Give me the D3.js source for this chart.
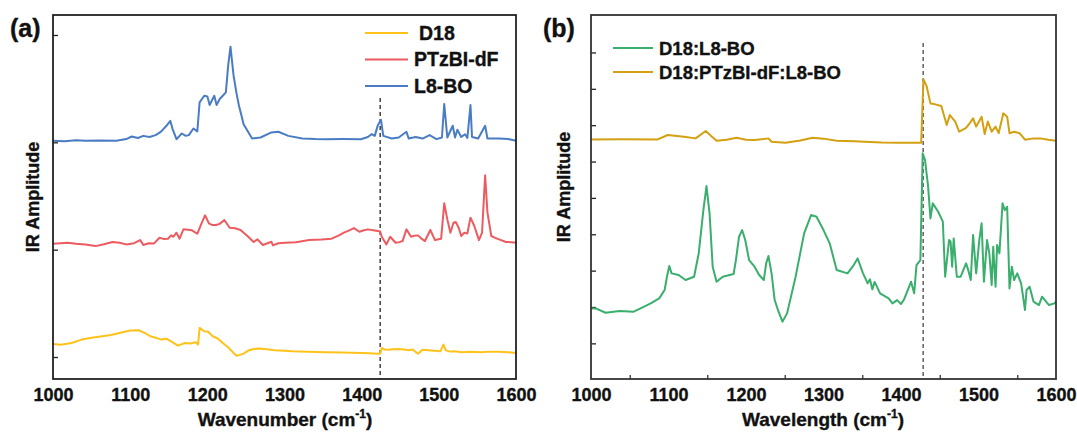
<!DOCTYPE html>
<html>
<head>
<meta charset="utf-8">
<script src="https://cdn.jsdelivr.net/npm/d3@7"></script>
<style>
  body { margin: 0; background: #fff; }
  svg text { font-family: "Liberation Sans", Arial, sans-serif; font-weight: bold; fill: #111; stroke: #111; stroke-width: 0.35px; }
</style>
</head>
<body>
<svg id="chart" width="1077" height="432"></svg>
<script>
// ---- data (wavenumber cm-1, offset amplitude) ----
var xTicks = [1000, 1100, 1200, 1300, 1400, 1500, 1600];
var namesA = ["D18", "PTzBI-dF", "L8-BO"];
var namesB = ["D18:L8-BO", "D18:PTzBI-dF:L8-BO"];
var markA = 1424;
var markB = 1428.6;

var d18 = [[1000,0.12],[1010,0.115],[1024,0.13],[1037,0.162],[1050,0.18],[1064,0.193],[1075,0.205],[1086,0.224],[1100,0.246],[1111,0.249],
  [1120,0.22],[1126,0.193],[1133,0.18],[1140,0.162],[1147,0.17],[1153,0.146],[1162,0.106],[1167,0.12],[1171,0.13],[1178,0.125],[1185,0.137],[1188,0.115],
  [1190,0.271],[1196,0.24],[1201,0.235],[1207,0.193],[1214,0.17],[1220,0.13],[1227,0.09],[1234,0.037],[1238,0.012],[1242,0.02],[1247,0.031],[1253,0.06],[1260,0.075],
  [1267,0.08],[1274,0.075],[1287,0.062],[1300,0.058],[1310,0.053],[1330,0.05],[1354,0.044],[1375,0.042],[1399,0.037],[1410,0.036],[1421,0.031],[1424,0.03],
  [1426,0.084],[1430,0.07],[1435,0.068],[1440,0.072],[1448,0.075],[1455,0.07],[1461,0.062],[1466,0.07],[1473,0.031],[1476,0.05],[1479,0.068],[1490,0.06],[1502,0.053],
  [1506,0.115],[1509,0.062],[1515,0.05],[1520,0.053],[1530,0.045],[1540,0.05],[1555,0.044],[1565,0.05],[1578,0.05],[1590,0.045],[1600,0.037]];

var ptzbi = [[1000,1.055],[1010,1.06],[1019,1.064],[1030,1.055],[1042,1.049],[1055,1.033],[1066,1.05],[1077,1.071],[1086,1.065],[1095,1.049],[1105,1.06],
  [1113,1.089],[1117,1.043],[1124,1.06],[1131,1.058],[1138,1.111],[1143,1.1],[1149,1.102],[1153,1.133],[1156,1.12],[1160,1.158],[1164,1.102],[1169,1.189],
  [1175,1.185],[1180,1.18],[1187,1.148],[1191,1.22],[1197,1.32],[1202,1.245],[1206,1.23],[1211,1.229],[1216,1.24],[1222,1.276],[1229,1.204],[1236,1.2],
  [1243,1.183],[1252,1.127],[1260,1.071],[1265,1.096],[1272,1.043],[1278,1.06],[1283,1.074],[1285,1.04],[1292,1.06],[1301,1.064],[1315,1.07],[1332,1.089],
  [1348,1.095],[1361,1.102],[1370,1.13],[1377,1.158],[1384,1.18],[1390,1.201],[1397,1.167],[1403,1.18],[1408,1.189],[1415,1.18],[1421,1.173],[1424,1.17],
  [1426,1.12],[1432,1.049],[1437,1.12],[1444,1.064],[1449,1.07],[1453,1.08],[1458,1.189],[1464,1.12],[1468,1.13],[1473,1.133],[1478,1.1],[1482,1.08],
  [1489,1.183],[1495,1.089],[1503,1.102],[1507,1.432],[1511,1.282],[1515,1.158],[1519,1.251],[1522,1.257],[1526,1.2],[1529,1.127],[1533,1.158],[1537,1.15],
  [1541,1.298],[1546,1.22],[1552,1.089],[1556,1.158],[1560,1.693],[1563,1.345],[1568,1.127],[1573,1.11],[1578,1.096],[1587,1.071],[1594,1.07],[1600,1.064]];

var l8bo = [[1000,2.014],[1015,2.01],[1030,2.02],[1042,2.014],[1060,2.018],[1082,2.014],[1095,2.03],[1102,2.054],[1110,2.04],[1117,2.06],[1125,2.05],
  [1133,2.067],[1140,2.1],[1147,2.154],[1152,2.2],[1155,2.123],[1160,2.029],[1164,2.06],[1167,2.082],[1172,2.06],[1176,2.067],[1182,2.129],[1187,2.101],
  [1190,2.372],[1196,2.434],[1200,2.428],[1203,2.347],[1209,2.434],[1212,2.347],[1216,2.403],[1220,2.434],[1224,2.465],[1227,2.714],[1230,2.891],
  [1234,2.621],[1238,2.449],[1241,2.34],[1243,2.284],[1247,2.169],[1252,2.107],[1258,2.035],[1269,2.045],[1283,2.092],[1292,2.098],[1305,2.06],
  [1323,2.035],[1340,2.03],[1354,2.029],[1375,2.03],[1399,2.029],[1408,2.05],[1413,2.076],[1417,2.06],[1421,2.16],[1425,2.21],[1428,2.06],[1439,2.035],
  [1448,2.045],[1458,2.098],[1461,2.035],[1470,2.05],[1479,2.035],[1488,2.067],[1497,2.03],[1504,2.045],[1507,2.356],[1511,2.045],[1518,2.154],[1521,2.045],
  [1524,2.117],[1529,2.05],[1534,2.075],[1537,2.04],[1541,2.347],[1543,2.05],[1551,2.035],[1560,2.154],[1563,2.035],[1578,2.035],[1590,2.03],[1600,2.014]];

var mixGreen = [[1000,0.962],[1006,0.962],[1019,0.843],[1037,0.889],[1055,0.871],[1064,0.962],[1077,1.1],[1088,1.237],[1095,1.467],[1098,1.833],
  [1101,2.127],[1104,1.925],[1113,1.879],[1122,1.742],[1133,1.833],[1139,2.475],[1145,3.666],[1149,4.326],[1153,3.575],[1157,2.108],[1162,1.696],
  [1170,1.833],[1184,1.907],[1187,2.291],[1191,2.933],[1195,3.116],[1199,2.841],[1204,2.291],[1211,2.108],[1217,1.879],[1223,1.742],[1226,2.2],
  [1229,2.401],[1233,1.925],[1237,1.192],[1242,0.871],[1247,0.596],[1253,0.825],[1264,1.833],[1275,3.025],[1284,3.529],[1291,3.483],[1300,3.116],
  [1308,2.75],[1317,2.017],[1331,1.925],[1339,2.154],[1344,2.337],[1351,1.925],[1357,1.65],[1360,1.76],[1363,1.485],[1366,1.69],[1373,1.375],
  [1384,1.237],[1389,1.1],[1395,1.19],[1400,1.082],[1404,1.21],[1413,1.696],[1417,1.375],[1420,2.154],[1425,2.291],[1428,5.225],[1431,5.041],
  [1435,4.308],[1438,3.437],[1441,3.85],[1448,3.62],[1454,3.346],[1457,1.833],[1462,2.841],[1464,2.8],[1466,2.108],[1468,2.887],[1472,1.833],
  [1477,1.833],[1484,2.2],[1487,2.0],[1490,1.742],[1493,2.979],[1497,1.925],[1501,2.841],[1504,3.3],[1507,1.696],[1511,2.841],[1514,2.475],
  [1517,1.604],[1519,2.658],[1522,1.558],[1524,2.704],[1527,2.475],[1531,3.85],[1534,3.666],[1537,3.758],[1540,1.512],[1543,2.108],[1546,1.742],
  [1550,1.925],[1555,1.65],[1560,0.917],[1562,1.467],[1566,1.558],[1571,1.146],[1578,1.054],[1582,1.283],[1591,1.054],[1598,1.1],[1600,1.146]];

var mixGold = [[1000,5.609],[1040,5.61],[1086,5.609],[1099,5.729],[1108,5.71],[1120,5.68],[1135,5.637],[1148,5.839],[1155,5.7],[1162,5.573],
  [1175,5.6],[1188,5.655],[1200,5.6],[1211,5.59],[1229,5.637],[1233,5.545],[1251,5.518],[1270,5.58],[1286,5.655],[1300,5.63],[1317,5.573],
  [1340,5.56],[1353,5.545],[1375,5.527],[1400,5.52],[1426,5.518],[1429,7.259],[1433,7.076],[1438,6.599],[1443,6.58],[1452,6.526],[1459,6.004],
  [1463,6.279],[1470,6.1],[1475,5.82],[1483,5.91],[1487,6.004],[1493,6.187],[1497,5.96],[1504,6.233],[1508,5.756],[1512,6.1],[1517,5.82],
  [1522,5.96],[1526,5.78],[1532,6.325],[1537,6.233],[1540,5.78],[1546,5.82],[1553,5.78],[1560,5.6],[1571,5.637],[1580,5.637],[1590,5.6],[1600,5.573]];

var colorsA = ["#FFC21A", "#EC5B60", "#4A7CC4"];
var colorsB = ["#3AAE6C", "#D4A010"];

var svg = d3.select("#chart");

// ---- panel builder ----
function panel(opt) {
    var x = d3.scaleLinear().domain([1000, 1600]).range([opt.left, opt.right]);
    var y = d3.scaleLinear().domain(opt.yDomain).range([379, 15]);
    var g = svg.append("g");

    // y ticks (inward, no labels)
    var ya = g.append("g")
        .attr("transform", "translate(" + opt.left + ",0)")
        .call(d3.axisLeft(y).tickValues(opt.yTicks).tickSize(-5).tickFormat(""));
    ya.select(".domain").remove();
    ya.selectAll("line").attr("stroke", "#222").attr("stroke-width", 1.3);

    // x axis labels
    var xa = g.append("g")
        .attr("transform", "translate(0,379)")
        .call(d3.axisBottom(x).tickValues(xTicks).tickSize(0).tickPadding(9).tickFormat(d3.format("d")));
    xa.select(".domain").remove();
    xa.selectAll("text").style("font-size", "18px").attr("fill", "#111");

    if (opt.minor) {
        var xm = g.append("g")
            .attr("transform", "translate(0,379)")
            .call(d3.axisBottom(x).tickValues(opt.minor).tickSize(-4).tickFormat(""));
        xm.select(".domain").remove();
        xm.selectAll("line").attr("stroke", "#333").attr("stroke-width", 1.3);
    }

    // dashed marker
    g.append("line")
        .attr("x1", x(opt.mark)).attr("x2", x(opt.mark))
        .attr("y1", opt.markTop).attr("y2", 379)
        .attr("stroke", opt.markColor).attr("stroke-width", 1.4)
        .attr("stroke-dasharray", "4,3");

    // traces
    var line = d3.line().x(d => x(d[0])).y(d => y(d[1]));
    opt.series.forEach(function (s, i) {
        g.append("path")
            .datum(s)
            .attr("d", line)
            .attr("fill", "none")
            .attr("stroke", opt.colors[i])
            .attr("stroke-width", 2)
            .attr("stroke-linejoin", "round");
    });

    // frame
    g.append("rect")
        .attr("x", opt.left).attr("y", 15)
        .attr("width", opt.right - opt.left).attr("height", 364)
        .attr("fill", "none").attr("stroke", opt.frameColor).attr("stroke-width", 1.8);

    // legend
    opt.names.forEach(function (n, i) {
        var ly = opt.legY + i * opt.legStep;
        g.append("line")
            .attr("x1", opt.legX).attr("x2", opt.legX + opt.legLen)
            .attr("y1", ly).attr("y2", ly)
            .attr("stroke", opt.colors[i]).attr("stroke-width", 2);
        g.append("text")
            .attr("x", opt.legX + opt.legLen + 6 + (opt.legIndent ? opt.legIndent[i] : 0))
            .attr("y", ly + 6.5)
            .style("font-size", opt.legFont + "px")
            .text(n);
    });

    // axis titles
    g.append("text")
        .attr("transform", "translate(" + opt.yTitleX + "," + opt.yTitleY + ") rotate(-90)")
        .attr("text-anchor", "middle")
        .style("font-size", "18px")
        .text("IR Amplitude");

    var xt = g.append("text")
        .attr("x", opt.xTitleX).attr("y", 426)
        .attr("text-anchor", "middle")
        .style("font-size", "19px");
    xt.append("tspan").text(opt.xTitle + " (cm");
    xt.append("tspan").attr("dy", -8).style("font-size", "12px").text("-1");
    xt.append("tspan").attr("dy", 8).text(")");

    g.append("text")
        .attr("x", opt.tagX).attr("y", 37)
        .style("font-size", "25px")
        .text(opt.tag);
}

panel({
    left: 53, right: 516, yDomain: [-0.205, 3.186], yTicks: [0, 1, 2, 3],
    series: [d18, ptzbi, l8bo], colors: colorsA, names: namesA,
    mark: markA, markTop: 98, markColor: "#333",
    legX: 365, legY: 33, legStep: 26.5, legLen: 43, legFont: 19.5, legIndent: [5, 0, 0],
    frameColor: "#222", yTitleX: 39, yTitleY: 197, xTitleX: 285, xTitle: "Wavenumber",
    tag: "(a)", tagX: 10
});

panel({
    left: 591, right: 1056, yDomain: [-0.98, 9.03], yTicks: [0, 1, 2, 3, 4, 5, 6, 7, 8],
    minor: [1050, 1150, 1250, 1350, 1450, 1550],
    series: [mixGreen, mixGold], colors: colorsB, names: namesB,
    mark: markB, markTop: 43, markColor: "#555",
    legX: 613, legY: 48, legStep: 24, legLen: 40, legFont: 18.5,
    frameColor: "#333", yTitleX: 570, yTitleY: 187, xTitleX: 823, xTitle: "Wavelength",
    tag: "(b)", tagX: 543
});
</script>
</body>
</html>
